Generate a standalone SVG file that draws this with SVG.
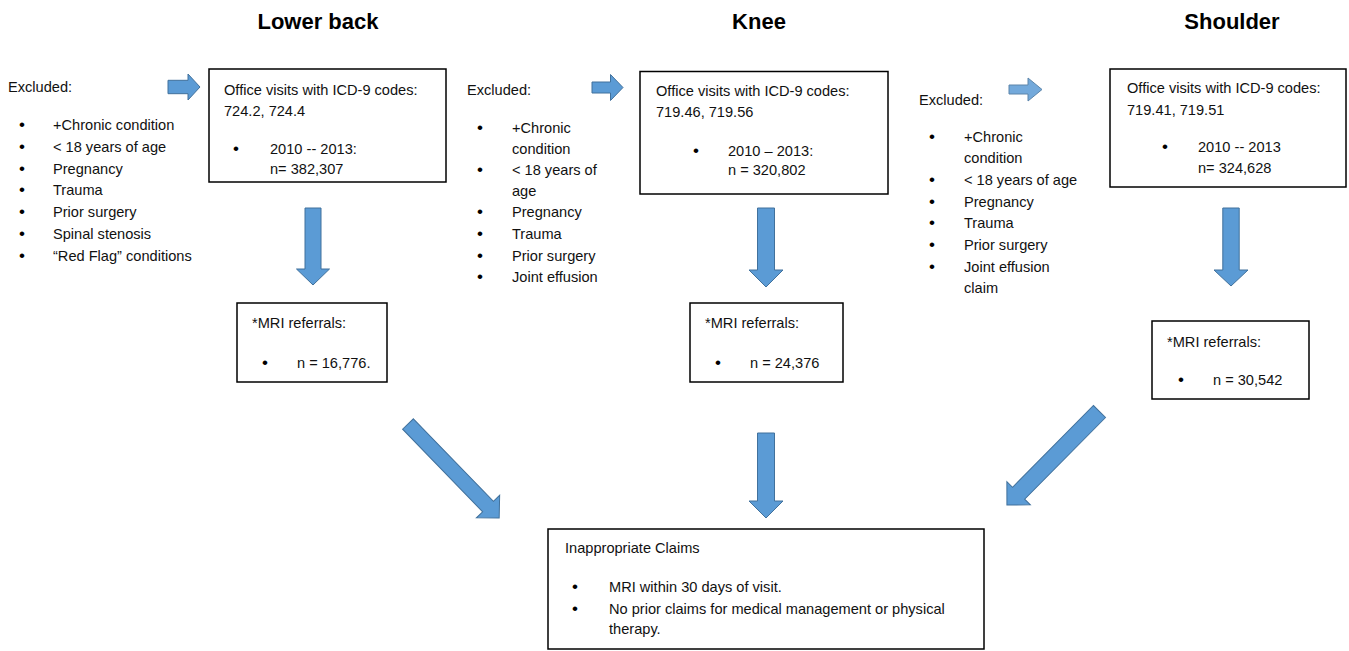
<svg xmlns="http://www.w3.org/2000/svg" width="1349" height="651" viewBox="0 0 1349 651">
<style>
.t{font-family:"Liberation Sans",Arial,sans-serif;font-size:14.6px;fill:#111}
.d{font-family:"Liberation Sans",Arial,sans-serif;font-size:17px;fill:#000}
.h{font-family:"Liberation Sans",Arial,sans-serif;font-size:22px;font-weight:bold;fill:#000;text-anchor:middle}
.b{fill:#fff;stroke:#000;stroke-width:1.5}
.a{fill:#5B9BD5;stroke:#41719C;stroke-width:1}
</style>
<rect width="1349" height="651" fill="#fff"/>
<g id="titles">
<text class="h" x="318" y="29">Lower back</text>
<text class="h" x="759" y="29">Knee</text>
<text class="h" x="1232" y="29">Shoulder</text>
</g>
<g id="excluded-lowerback">
<text class="t" x="8" y="92">Excluded:</text>
<text class="d" x="19" y="130">•</text><text class="t" x="53" y="130">+Chronic condition</text>
<text class="d" x="19" y="152">•</text><text class="t" x="53" y="152">&lt; 18 years of age</text>
<text class="d" x="19" y="173.5">•</text><text class="t" x="53" y="173.5">Pregnancy</text>
<text class="d" x="19" y="195">•</text><text class="t" x="53" y="195">Trauma</text>
<text class="d" x="19" y="217">•</text><text class="t" x="53" y="217">Prior surgery</text>
<text class="d" x="19" y="239">•</text><text class="t" x="53" y="239">Spinal stenosis</text>
<text class="d" x="19" y="261">•</text><text class="t" x="53" y="261">“Red Flag” conditions</text>
</g>
<g id="visits-lowerback">
<rect class="b" x="209" y="69" width="237" height="113"/>
<text class="t" x="224" y="95">Office visits with ICD-9 codes:</text>
<text class="t" x="224" y="116">724.2, 724.4</text>
<text class="d" x="233" y="154">•</text><text class="t" x="270" y="154">2010 -- 2013:</text>
<text class="t" x="270" y="173.5">n= 382,307</text>
</g>
<g id="mri-lowerback">
<rect class="b" x="237" y="303" width="150" height="79"/>
<text class="t" x="252" y="328">*MRI referrals:</text>
<text class="d" x="262" y="368">•</text><text class="t" x="297" y="368">n = 16,776.</text>
</g>
<g id="excluded-knee">
<text class="t" x="467" y="94.5">Excluded:</text>
<text class="d" x="477" y="133">•</text><text class="t" x="512" y="133">+Chronic</text>
<text class="t" x="512" y="153.5">condition</text>
<text class="d" x="477" y="175">•</text><text class="t" x="512" y="175">&lt; 18 years of</text>
<text class="t" x="512" y="195.5">age</text>
<text class="d" x="477" y="217">•</text><text class="t" x="512" y="217">Pregnancy</text>
<text class="d" x="477" y="239">•</text><text class="t" x="512" y="239">Trauma</text>
<text class="d" x="477" y="261">•</text><text class="t" x="512" y="261">Prior surgery</text>
<text class="d" x="477" y="282">•</text><text class="t" x="512" y="282">Joint effusion</text>
</g>
<g id="visits-knee">
<rect class="b" x="640" y="71.5" width="248" height="122.5"/>
<text class="t" x="656" y="96">Office visits with ICD-9 codes:</text>
<text class="t" x="656" y="117">719.46, 719.56</text>
<text class="d" x="693" y="156">•</text><text class="t" x="728" y="156">2010 – 2013:</text>
<text class="t" x="728" y="175">n = 320,802</text>
</g>
<g id="mri-knee">
<rect class="b" x="690" y="303" width="153" height="79"/>
<text class="t" x="705" y="328">*MRI referrals:</text>
<text class="d" x="715" y="368">•</text><text class="t" x="750" y="368">n = 24,376</text>
</g>
<g id="excluded-shoulder">
<text class="t" x="919" y="105">Excluded:</text>
<text class="d" x="929" y="142">•</text><text class="t" x="964" y="142">+Chronic</text>
<text class="t" x="964" y="163">condition</text>
<text class="d" x="929" y="185">•</text><text class="t" x="964" y="185">&lt; 18 years of age</text>
<text class="d" x="929" y="207">•</text><text class="t" x="964" y="207">Pregnancy</text>
<text class="d" x="929" y="228">•</text><text class="t" x="964" y="228">Trauma</text>
<text class="d" x="929" y="250">•</text><text class="t" x="964" y="250">Prior surgery</text>
<text class="d" x="929" y="272">•</text><text class="t" x="964" y="272">Joint effusion</text>
<text class="t" x="964" y="293">claim</text>
</g>
<g id="visits-shoulder">
<rect class="b" x="1110" y="69" width="236" height="118"/>
<text class="t" x="1127" y="93">Office visits with ICD-9 codes:</text>
<text class="t" x="1127" y="114.5">719.41, 719.51</text>
<text class="d" x="1162" y="151.5">•</text><text class="t" x="1198" y="151.5">2010 -- 2013</text>
<text class="t" x="1198" y="172.5">n= 324,628</text>
</g>
<g id="mri-shoulder">
<rect class="b" x="1152" y="321" width="157" height="78"/>
<text class="t" x="1167" y="347">*MRI referrals:</text>
<text class="d" x="1178" y="385">•</text><text class="t" x="1213" y="385">n = 30,542</text>
</g>
<g id="inappropriate-claims">
<rect class="b" x="548" y="529" width="436" height="120"/>
<text class="t" x="565" y="553">Inappropriate Claims</text>
<text class="d" x="572" y="592">•</text><text class="t" x="609" y="592">MRI within 30 days of visit.</text>
<text class="d" x="572" y="613.5">•</text><text class="t" x="609" y="613.5">No prior claims for medical management or physical</text>
<text class="t" x="609" y="634">therapy.</text>
</g>
<g id="connectors">
<polygon class="a" points="0,-6.7 20,-6.7 20,-13 32,0 20,13 20,6.7 0,6.7" transform="translate(168,87)"/>
<polygon class="a" points="0,-5.5 18.5,-5.5 18.5,-13 31,0 18.5,13 18.5,5.5 0,5.5" transform="translate(592,87.5)"/>
<polygon class="a" points="0,-4.5 19,-4.5 19,-11.5 33,0 19,11.5 19,4.5 0,4.5" transform="translate(1009,89.5)" opacity="0.85"/>
<polygon class="a" points="0,-8 61,-8 61,-16.5 77,0 61,16.5 61,8 0,8" transform="translate(313,208) rotate(90)"/>
<polygon class="a" points="0,-8.5 62,-8.5 62,-17 79,0 62,17 62,8.5 0,8.5" transform="translate(766,208) rotate(90)"/>
<polygon class="a" points="0,-8.2 62,-8.2 62,-17 78,0 62,17 62,8.2 0,8.2" transform="translate(1231,208) rotate(90)"/>
<polygon class="a" points="0,-8.5 68,-8.5 68,-17 85,0 68,17 68,8.5 0,8.5" transform="translate(766,433) rotate(90)"/>
<polygon class="a" points="0,-7.5 115,-7.5 115,-16.2 131,0 115,16.2 115,7.5 0,7.5" transform="translate(408,424) rotate(45.9)"/>
<polygon class="a" points="0,-8.5 115,-8.5 115,-16.5 131.6,0 115,16.5 115,8.5 0,8.5" transform="translate(1099.5,411.5) rotate(134.7)"/>
</g>
</svg>
